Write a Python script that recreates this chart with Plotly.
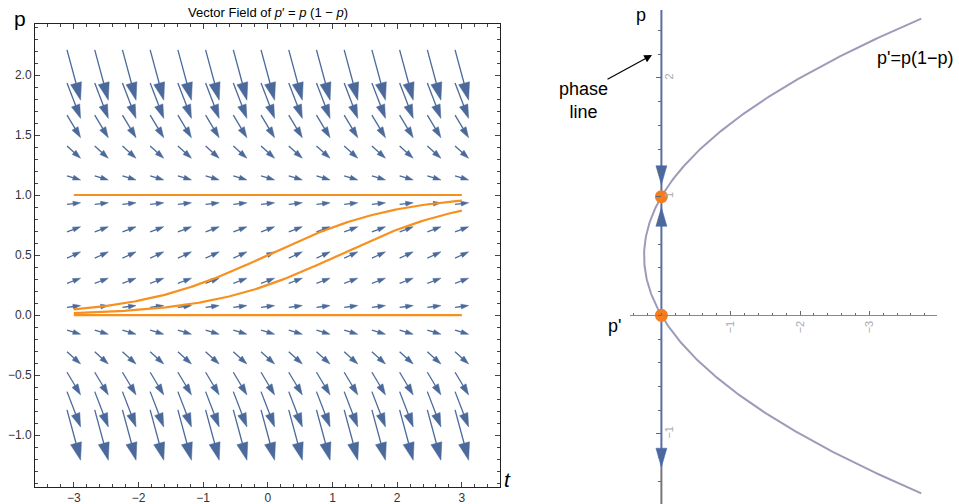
import numpy as np
import plotly.graph_objects as go

W, H = 959, 504

# ---- data ----
# vector field p' = p(1 - p) on VectorPlot's default 15 x 15 grid
t_grid = np.linspace(-3, 3, 15)
p_grid = np.linspace(-1, 2, 15)
arrow_scale = 0.21          # arrow = 0.21 * (1, p')
# solution curves through p(0) = p0
p0_values = [0.0, 0.25, 0.5, 1.0]
t_span = [-3, 3]
# phase line picture
curve_p_span = [-1.5, 2.5]
equilibria = [0.0, 1.0]
phase_arrow_tips = [1.10, 0.91, -1.28]
phase_arrow_dirs = [-1, 1, -1]
x2_ticks = [-1, -2, -3]
y2_ticks = [-1, 1, 2]

BLUE = "#4b6a9b"
ORANGE = "#f7901e"
FONT = "Liberation Sans, Arial, sans-serif"


def f(p):
    return p * (1 - p)


# ---- left panel geometry (px) ----
LX0, LX1, LY0, LY1 = 35, 500, 24, 487
xr = [-3.6, 3.59]
yr = [-1.433, 2.425]
sx = (LX1 - LX0) / (xr[1] - xr[0])
sy = (LY1 - LY0) / (yr[1] - yr[0])

fig = go.Figure()

# vector field arrows: shafts + triangular heads
shaft_x, shaft_y, head_x, head_y = [], [], [], []
for p in p_grid:
    for t in t_grid:
        vx, vy = arrow_scale * sx, arrow_scale * f(p) * sy   # px, y up
        L = np.hypot(vx, vy)
        ux, uy = vx / L, vy / L
        nx, ny = -uy, ux
        h = 4 + 0.26 * L
        w = 0.64 * h
        # tail and tip in px relative to center
        tx, ty = -vx / 2, -vy / 2
        hx, hy = vx / 2, vy / 2
        bx, by = hx - h * ux, hy - h * uy
        shaft_x += [t + tx / sx, t + (bx + 0.5 * ux) / sx, None]
        shaft_y += [p + ty / sy, p + (by + 0.5 * uy) / sy, None]
        pts = [(hx, hy), (bx + nx * w / 2, by + ny * w / 2), (bx - nx * w / 2, by - ny * w / 2), (hx, hy)]
        head_x += [t + a / sx for a, b in pts] + [None]
        head_y += [p + b / sy for a, b in pts] + [None]

fig.add_trace(go.Scatter(x=shaft_x, y=shaft_y, mode="lines", line=dict(color=BLUE, width=1.3),
                         hoverinfo="skip", showlegend=False))
fig.add_trace(go.Scatter(x=head_x, y=head_y, mode="lines", fill="toself", fillcolor=BLUE,
                         line=dict(color=BLUE, width=0.5), hoverinfo="skip", showlegend=False))

# solution curves
ts = np.linspace(t_span[0], t_span[1], 200)
for p0 in p0_values:
    ps = p0 * np.exp(ts) / (1 - p0 + p0 * np.exp(ts))
    fig.add_trace(go.Scatter(x=ts, y=ps, mode="lines", line=dict(color=ORANGE, width=2.2),
                             hoverinfo="skip", showlegend=False))

# ---- right panel (phase line) ----
RX0, RX1 = 630, 937
p_zero_x = 661.4
sx2 = 69.3
RY_top = 10
p_zero_y = 315.3
sy2 = 118.67
x2r = [(p_zero_x - RX0) / sx2, -(RX1 - p_zero_x) / sx2]
y2r = [-(H - p_zero_y) / sy2, (p_zero_y - RY_top) / sy2]

pc = np.linspace(curve_p_span[0], curve_p_span[1], 300)
fig.add_trace(go.Scatter(x=f(pc), y=pc, xaxis="x2", yaxis="y2", mode="lines",
                         line=dict(color="#9e9bba", width=2), hoverinfo="skip", showlegend=False))

# vertical phase line: blue down to the last arrow tip, grey below
fig.add_trace(go.Scatter(x=[0, 0], y=[y2r[1], phase_arrow_tips[-1]], xaxis="x2", yaxis="y2", mode="lines",
                         line=dict(color="#5a6fa0", width=2), hoverinfo="skip", showlegend=False))
fig.add_trace(go.Scatter(x=[0, 0], y=[phase_arrow_tips[-1], y2r[0]], xaxis="x2", yaxis="y2", mode="lines",
                         line=dict(color="#777777", width=2), hoverinfo="skip", showlegend=False))

ah_x, ah_y = [], []
for tip, d in zip(phase_arrow_tips, phase_arrow_dirs):
    hl, hw = 19, 11
    base = tip - d * hl / sy2
    ah_x += [0, hw / 2 / sx2, -hw / 2 / sx2, 0, None]
    ah_y += [tip, base, base, tip, None]
fig.add_trace(go.Scatter(x=ah_x, y=ah_y, xaxis="x2", yaxis="y2", mode="lines", fill="toself",
                         fillcolor="#4a68a3", line=dict(color="#4a68a3", width=0.5),
                         hoverinfo="skip", showlegend=False))

fig.add_trace(go.Scatter(x=[f(p) for p in equilibria], y=equilibria, xaxis="x2", yaxis="y2",
                         mode="markers", marker=dict(color="#f47d22", size=13), cliponaxis=False,
                         hoverinfo="skip", showlegend=False))

# ---- annotations ----
def px(x, y):
    return x / W, 1 - y / H


ann = []
def text(x, y, s, size, **kw):
    xx, yy = px(x, y)
    ann.append(dict(x=xx, y=yy, xref="paper", yref="paper", text=s, showarrow=False,
                    xanchor="center", yanchor="middle",
                    font=dict(size=size, color="black", family=FONT), **kw))

text(268, 12, "Vector Field of <i>p</i>\u2032 = <i>p</i> (1 \u2212 <i>p</i>)", 13)
text(20, 19, "p", 21)
text(507, 479, "<i>t</i>", 21)
text(641, 15, "p", 18)
text(614, 326, "p'", 18)
text(915, 58, "p'=p(1\u2212p)", 18)
text(583, 101, "phase<br>line", 18)
tx_, ty_ = px(652, 55)
ann.append(dict(x=tx_, y=ty_, xref="paper", yref="paper", text="", showarrow=True,
                ax=-46, ay=25, arrowhead=2, arrowsize=1.3, arrowwidth=1.2, arrowcolor="black"))

frame = dict(showline=True, linecolor="#222", linewidth=1, mirror="allticks", ticks="inside",
             tickcolor="#444", showgrid=False, zeroline=False,
             tickfont=dict(size=12, color="#333", family=FONT))

fig.update_layout(
    width=W, height=H, margin=dict(l=0, r=0, t=0, b=0),
    paper_bgcolor="white", plot_bgcolor="white",
    font=dict(family=FONT),
    xaxis=dict(domain=[LX0 / W, LX1 / W], range=xr, tickvals=[-3, -2, -1, 0, 1, 2, 3], ticklen=5,
               minor=dict(ticks="inside", dtick=0.2, tick0=0, ticklen=3, tickcolor="#444"), **frame),
    yaxis=dict(domain=[1 - LY1 / H, 1 - LY0 / H], range=yr, dtick=0.5, tick0=0, tickformat=".1f", ticklen=5,
               minor=dict(ticks="inside", dtick=0.1, tick0=0, ticklen=3, tickcolor="#444"), **frame),
    xaxis2=dict(domain=[RX0 / W, RX1 / W], range=x2r, anchor="free", position=1 - p_zero_y / H,
                showline=True, linecolor="#888", linewidth=1.2, showgrid=False, zeroline=False,
                ticks="inside", ticklen=4, tickcolor="#666", tickvals=x2_ticks,
                ticktext=["\u2212" + str(-v) for v in x2_ticks], tickangle=-90,
                tickfont=dict(size=11, color="#aaaaaa", family=FONT),
                minor=dict(ticks="inside", dtick=0.2, tick0=0, ticklen=2.5, tickcolor="#666")),
    yaxis2=dict(domain=[0, 1 - RY_top / H], range=y2r, anchor="free", position=p_zero_x / W, side="right",
                showline=False, showgrid=False, zeroline=False,
                ticks="inside", ticklen=5, tickcolor="#666", tickvals=y2_ticks,
                ticktext=[("\u2212" + str(-v)) if v < 0 else str(v) for v in y2_ticks], tickangle=-90,
                tickfont=dict(size=11, color="#aaaaaa", family=FONT),
                minor=dict(ticks="inside", dtick=0.2, tick0=0, ticklen=3, tickcolor="#666")),
    annotations=ann,
)

# the page body has a default 8px margin; remove it so the figure fills the window
fig.write_html("out.html", config={"displayModeBar": False},
               post_script="document.body.style.margin='0px';")
